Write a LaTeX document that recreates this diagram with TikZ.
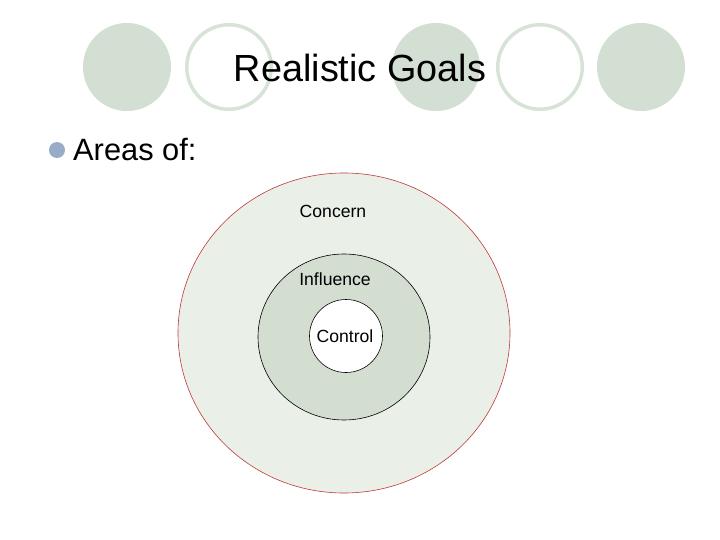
\documentclass[tikz,border=0pt]{standalone}
\usepackage{fontspec}
\setmainfont{Liberation Sans}
\usetikzlibrary{shapes.geometric}
\definecolor{deco}{HTML}{D3DFD2}
\definecolor{decoline}{HTML}{D8E3D7}
\definecolor{concernfill}{HTML}{EAF0E8}
\definecolor{influencefill}{HTML}{D3DDD0}
\definecolor{concernline}{HTML}{C03838}
\definecolor{bulletc}{HTML}{98ABC9}
\begin{document}
\begin{tikzpicture}[x=1pt,y=-1pt,
  dotfilled/.style={circle,fill=deco,draw=none,minimum size=88pt,inner sep=0pt},
  dotring/.style={circle,fill=white,draw=decoline,line width=3.5pt,minimum size=84.5pt,inner sep=0pt},
  zone/.style={ellipse,inner sep=0pt,line width=0.6pt},
  lbl/.style={font=\fontsize{17.6}{19}\selectfont,inner sep=0pt}]
\useasboundingbox (0,0) rectangle (720,540);
\fill[white] (0,0) rectangle (720,540);
% decorative circles
\node[dotfilled] (d1) at (127,67) {};
\node[dotring] (d2) at (229,67) {};
\node[dotfilled] (d3) at (436,67) {};
\node[dotring] (d4) at (540,67) {};
\node[dotfilled] (d5) at (641,67) {};
% title
\node[inner sep=0pt,font=\fontsize{37.8}{40}\selectfont] (title) at (360,68) {Realistic Goals};
% bullet
\node[circle,fill=bulletc,minimum size=16pt,inner sep=0pt] (bul) at (57,150) {};
\node[anchor=base west,inner sep=0pt,font=\fontsize{30.8}{34}\selectfont] (areas) at (73,161) {Areas of:};
% zones
\node[zone,fill=concernfill,draw=concernline,minimum width=332pt,minimum height=320pt] (concern) at (344,333) {};
\node[zone,fill=influencefill,draw=black,minimum width=172pt,minimum height=166pt] (influence) at (344,337) {};
\node[zone,fill=white,draw=black,minimum width=73pt,minimum height=73pt] (control) at (346,336) {};
\node[lbl] (tconcern) at (333,211) {Concern};
\node[lbl] (tinfluence) at (335,279) {Influence};
\node[lbl] (tcontrol) at (345,336) {Control};
\end{tikzpicture}
\end{document}
